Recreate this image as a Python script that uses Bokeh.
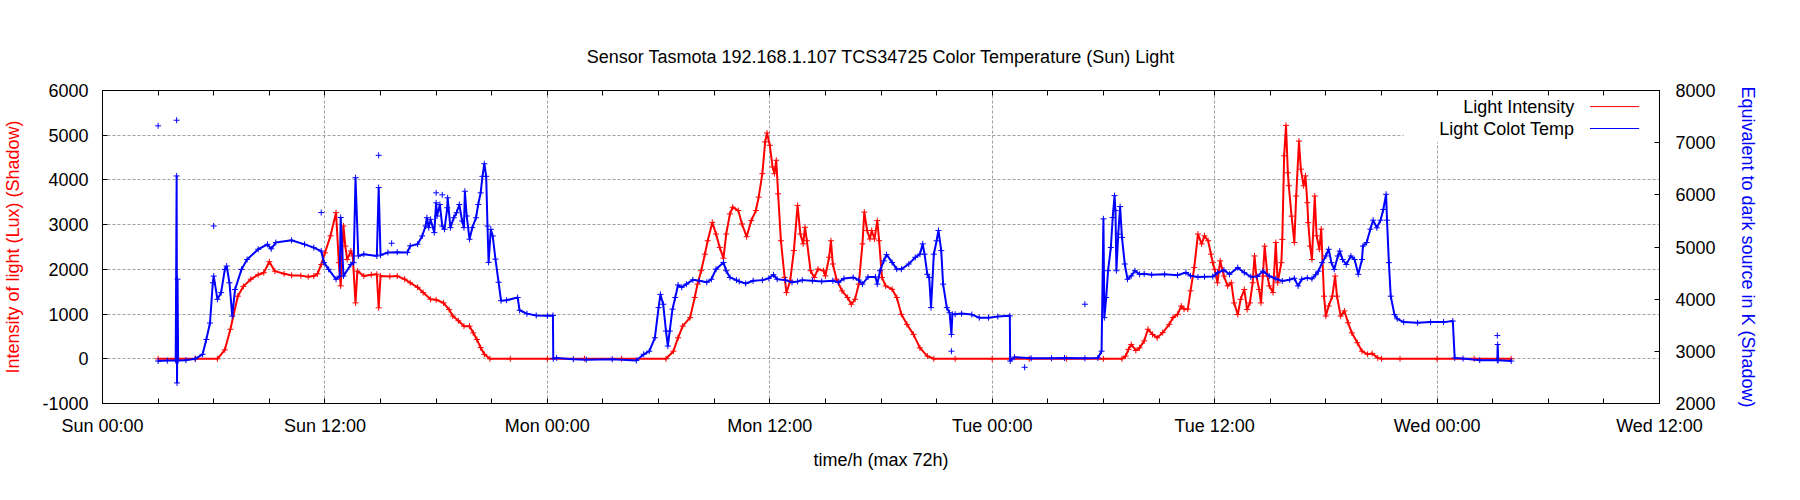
from bokeh.plotting import figure
from bokeh.models import Range1d, LinearAxis, FixedTicker, Label, BoxAnnotation
from bokeh.embed import file_html
from bokeh.resources import INLINE

FONT = "Liberation Sans"
TITLE = "Sensor Tasmota 192.168.1.107 TCS34725 Color Temperature (Sun) Light"
X_LABEL = "time/h (max 72h)"
Y_LABEL = "Intensity of light (Lux) (Shadow)"
Y2_LABEL = "Equivalent to dark source in K (Shadow)"

# x axis in hours since Sunday 00:00
x_tick_hours = [0, 12, 24, 36, 48, 60, 72, 84]
x_tick_labels = ["Sun 00:00", "Sun 12:00", "Mon 00:00", "Mon 12:00",
                 "Tue 00:00", "Tue 12:00", "Wed 00:00", "Wed 12:00"]
x_minor_hours = [3, 6, 9, 15, 18, 21, 27, 30, 33, 39, 42, 45, 51, 54, 57,
                 63, 66, 69, 75, 78, 81]
lux_ticks = [-1000, 0, 1000, 2000, 3000, 4000, 5000, 6000]
lux_tick_labels = ["-1000", "0", "1000", "2000", "3000", "4000", "5000", "6000"]
kelvin_ticks = [2000, 3000, 4000, 5000, 6000, 7000, 8000]
legend_labels = ["Light Intensity", "Light Colot Temp"]

# Light intensity (lux)
light_hours = [3.0, 4.0, 5.0, 6.2, 6.6, 6.9, 7.3, 7.6, 8.0, 8.4, 8.7, 9.0, 9.3, 9.8, 10.2,
               10.7, 11.1, 11.4, 11.6, 11.8, 12.0, 12.3, 12.6, 12.75, 12.85, 13.0, 13.1,
               13.2, 13.4, 13.5, 13.65, 13.75, 14.1, 14.5, 14.8, 14.9, 15.0, 15.5, 15.9,
               16.3, 16.6, 17.0, 17.3, 17.7, 18.0, 18.4, 18.7, 18.9, 19.2, 19.5, 19.8,
               20.0, 20.2, 20.4, 20.6, 20.9, 22.0, 24.0, 26.0, 28.0, 30.4,
               30.8, 31.05, 31.3, 31.7, 31.95, 32.1, 32.3, 32.5, 32.65, 32.9, 33.1, 33.3,
               33.5, 33.65, 33.85, 34.0, 34.3, 34.5, 34.75, 35.0, 35.25, 35.4, 35.6, 35.75,
               35.85, 36.0, 36.15, 36.25, 36.35, 36.45, 36.6, 36.8, 36.9, 37.1, 37.3, 37.5,
               37.65, 37.8, 37.9, 38.0, 38.2, 38.4, 38.6, 38.9, 39.0, 39.2, 39.3, 39.4,
               39.6, 39.9, 40.2, 40.4, 40.6, 40.8, 41.0, 41.1, 41.25, 41.4, 41.5, 41.65,
               41.8, 41.9, 42.05, 42.25, 42.6, 42.85, 43.1, 43.4, 43.75, 44.1, 44.5, 44.85,
               46.0, 48.0, 50.0, 52.0, 54.0, 55.0,
               55.2, 55.35, 55.5, 55.75, 55.95, 56.2, 56.4, 56.65, 56.9, 57.2, 57.55,
               57.75, 58.0, 58.2, 58.35, 58.55, 58.7, 58.9, 59.1, 59.3, 59.45, 59.65,
               59.8, 59.9, 60.0, 60.15, 60.3, 60.5, 60.7, 60.9, 61.05, 61.25, 61.4, 61.6,
               61.75, 61.9, 62.05, 62.15, 62.25, 62.4, 62.5, 62.6, 62.7, 62.85, 62.95,
               63.15, 63.3, 63.4, 63.6, 63.65, 63.75, 63.85, 63.95, 64.0, 64.15, 64.3,
               64.4, 64.55, 64.65, 64.8, 64.9, 65.0, 65.05, 65.15, 65.25, 65.4, 65.5,
               65.65, 65.75, 65.9, 66.0, 66.15, 66.35, 66.5, 66.6, 66.8, 67.0, 67.2,
               67.4, 67.7, 67.95, 68.25, 68.5, 68.8, 69.0, 70.0, 72.0, 74.0, 76.0]
light_lux = [0, 0, 0, 0, 200, 660, 1400, 1620, 1780, 1880, 1925, 2170, 1960, 1900, 1865,
             1860, 1835, 1850, 1900, 2110, 2370, 2750, 3270, 2150, 1630, 2970, 2520,
             2220, 2410, 2300, 1250, 1960, 1850, 1880, 1890, 1140, 1850, 1840, 1850,
             1780, 1700, 1600, 1480, 1330, 1320, 1250, 1100, 955, 850, 730, 730,
             580, 430, 250, 100, 0, 0, 0, 0, 0, 0,
             170, 470, 730, 920, 1370, 1670, 1970, 2340, 2640, 3050, 2790, 2490,
             2250, 2790, 3240, 3390, 3315, 3015, 2730, 3090, 3315, 3615, 4140, 4850,
             5050, 4775, 4290, 4140, 4440, 3690, 2640, 1820, 1480, 1745, 2420, 3430,
             2790, 2570, 2940, 2640, 1970, 1820, 2005, 1970, 1855, 2270, 2640, 2120,
             1780, 1520, 1370, 1220, 1330, 1670, 2570, 3280, 2870, 2680, 2870, 2680,
             3090, 2640, 1820, 1630, 1555, 1370, 995, 770, 545, 245, 60, 0,
             0, 0, 0, 0, 0, 0,
             60, 210, 320, 185, 245, 400, 660, 545, 470, 585, 770,
             920, 995, 1180, 1110, 1110, 1520, 2040, 2790, 2570, 2750, 2640,
             2340, 2150, 2000, 1700, 2190, 1850, 1630, 1700, 1250, 990, 1330, 1550,
             1100, 1250, 1700, 2300, 1850, 1550, 1250, 1850, 2520, 1850, 1630,
             1480, 2600, 1700, 2150, 2670, 4540, 5220, 4160, 3870, 3190, 2600,
             3640, 4870, 4240, 3870, 4090, 3490, 3045, 2520, 2220, 3640, 2750,
             2450, 2900, 1400, 955, 1180, 1400, 1850, 1400, 955, 1070, 805,
             580, 360, 170, 100, 120, 20, 0, 0, 0, 0, 0]

# Light colour temperature (K)
temp_hours = [3.0, 3.5, 3.95, 4.0, 4.02, 4.05, 4.08, 4.5, 5.0, 5.4, 5.6, 5.8, 5.95, 6.0,
              6.2, 6.4, 6.6, 6.7, 6.85, 7.0, 7.15, 7.5, 7.8, 8.4, 8.9, 9.1, 9.35, 10.2,
              10.9, 11.4, 11.8, 11.95, 12.2, 12.6, 12.8, 12.85, 13.0, 13.4, 13.55, 13.65,
              13.8, 14.1, 14.8, 14.9, 15.0, 15.4, 15.9, 16.45, 16.6, 17.0, 17.25, 17.43,
              17.5, 17.6, 17.7, 17.9, 18.0, 18.05, 18.2, 18.33, 18.45, 18.6, 18.62,
              18.77, 18.95, 19.1, 19.25, 19.4, 19.5, 19.55, 19.65, 19.8, 19.95, 20.15,
              20.27, 20.4, 20.5, 20.6, 20.7, 20.77, 20.83, 20.95, 21.05, 21.2, 21.37,
              21.5, 21.8, 22.4, 22.5, 22.9, 23.4, 24.0, 24.3, 24.32,
              24.5, 25.4, 26.1, 27.5, 28.8, 29.2, 29.5, 29.8, 30.0, 30.1, 30.25, 30.4,
              30.5, 30.6, 30.75, 30.9, 31.05, 31.25, 31.5, 31.85, 32.2, 32.6, 32.85,
              33.1, 33.5, 33.65, 33.85, 34.2, 34.35, 34.7, 35.1, 35.6, 35.95, 36.2, 36.4,
              36.85, 37.2, 37.5, 37.75, 38.3, 38.8, 39.4, 39.7, 40.0, 40.5, 40.8, 41.0,
              41.3, 41.7, 41.8, 41.95, 42.15, 42.3, 42.6, 42.85, 43.1, 43.5, 43.85, 44.1,
              44.25, 44.35, 44.5, 44.6, 44.7, 44.85, 45.0, 45.1, 45.25, 45.35, 45.55,
              45.7, 45.8, 45.85, 46.0, 46.35, 46.9, 47.3, 47.8, 48.3, 48.95, 48.97, 49.2,
              50.1, 51.2, 51.9, 53.0, 53.7, 53.9, 54.0, 54.05, 54.15, 54.25, 54.4, 54.5,
              54.6, 54.65, 54.7, 54.8, 54.9, 55.0, 55.15, 55.3, 55.5, 55.7, 55.95, 56.2,
              56.6, 57.3, 58.0, 58.45, 58.7, 59.1, 59.45, 59.9, 60.15, 60.5, 60.8, 61.25,
              61.6, 61.95, 62.3, 62.6, 62.95, 63.3, 63.65, 64.05, 64.3, 64.5, 64.7, 65.0,
              65.25, 65.45, 65.6, 65.8, 66.0, 66.15, 66.3, 66.45, 66.65, 66.75, 66.9,
              67.1, 67.35, 67.55, 67.75, 67.95, 68.0, 68.2, 68.4, 68.55, 68.75, 68.95,
              69.1, 69.25, 69.3, 69.4, 69.5, 69.7, 69.85, 70.2, 70.95, 71.65, 72.35,
              72.85, 72.95, 73.4, 74.3, 75.25, 75.27, 75.3, 76.0]
temp_k = [2814, 2823, 2823, 6362, 2394, 4383, 2823, 2831, 2857, 2943, 3226, 3543, 4314, 4442,
          3997, 4125, 4571, 4635, 4314, 3675, 4185, 4571, 4760, 4957, 5051, 4965, 5085, 5128,
          5051, 4987, 4922, 4700, 4571, 4382, 4442, 5565, 4442, 4665, 4700, 6328,
          4828, 4862, 4828, 6139, 4845, 4895, 4900, 4895, 5022, 5054, 5212, 5402,
          5561, 5371, 5529, 5276, 5847, 5594, 5815, 5402, 5339, 5752, 5943,
          5371, 5561, 5657, 5815, 5498, 5371, 6069, 5594, 5149, 5371, 5561,
          5815, 6038, 6355, 6596, 6355, 5402, 4705, 5339, 5212, 4768, 4324,
          3971, 3980, 4031, 3787, 3723, 3688, 3680, 3688, 2857,
          2874, 2848, 2840, 2848, 2825, 2943, 3003, 3260, 3838, 4091, 3903, 3388,
          3101, 3388, 3808, 4031, 4271, 4228, 4288, 4370, 4353, 4323, 4382,
          4575, 4704, 4545, 4417, 4365, 4340, 4301, 4353, 4365, 4400, 4468, 4382,
          4365, 4323, 4340, 4365, 4353, 4340, 4353, 4323, 4395, 4417, 4365, 4288,
          4425, 4425, 4288, 4545, 4734, 4854, 4704, 4575, 4575, 4674, 4802, 4862,
          5060, 4862, 4477, 4417, 3838, 4862, 5119, 5317, 4931, 4288, 3838,
          3740, 3324, 3710, 3710, 3723, 3705, 3645, 3645, 3667, 3680, 2814, 2889,
          2866, 2866, 2874, 2866, 2874, 3003, 5540, 3645, 4031, 4545, 4991, 5565,
          5985, 5698, 4545, 5248, 5775, 5184, 4674, 4382, 4447, 4545, 4477, 4485,
          4468, 4477, 4460, 4511, 4447, 4425, 4430, 4434, 4507, 4558, 4477, 4605,
          4507, 4430, 4434, 4537, 4442, 4391, 4348, 4374, 4400, 4254, 4382, 4408,
          4391, 4468, 4537, 4700, 4828, 4957, 4700, 4571, 4828, 4922, 4760,
          4665, 4828, 4760, 4477, 4760, 5017, 5085, 5342, 5514, 5368, 5514,
          5719, 6011, 5514, 4700, 4057, 3705, 3624, 3560, 3547, 3560, 3560,
          3581, 2874, 2861, 2831, 2827, 3131, 2827, 2814]

# isolated colour-temperature readings (drawn as points only)
temp_outlier_hours = [3.0, 4.0, 6.0, 11.8, 14.9, 15.6, 18.0, 18.33, 45.8, 49.75, 53.0, 75.25]
temp_outlier_k = [7323, 7430, 5403, 5660, 6757, 5072, 6038, 6000, 3003, 2694, 3903, 3302]

RED = "#ff0000"
BLUE = "#0000ff"
GRID = "#a0a0a0"

p = figure(width=1784, height=480, output_backend="svg", toolbar_location=None,
           x_range=Range1d(0, 84), y_range=Range1d(-1000, 6000),
           min_border_left=96, min_border_right=125, min_border_top=90,
           min_border_bottom=77, background_fill_color="white",
           border_fill_color="white")
p.extra_y_ranges = {"kelvin": Range1d(2000, 8000)}
p.outline_line_color = "black"
p.outline_line_width = 1
p.outline_line_alpha = 1

p.title.text = TITLE
p.title.align = "center"
p.title.text_font = FONT
p.title.text_font_size = "18px"
p.title.text_font_style = "normal"
p.title.text_color = "#000000"
p.title.standoff = 47


def style_axis(ax):
    ax.axis_line_color = "black"
    ax.major_tick_in = 5
    ax.major_tick_out = 0
    ax.minor_tick_in = 5
    ax.minor_tick_out = 0
    ax.major_tick_line_color = "black"
    ax.minor_tick_line_color = "black"
    ax.major_label_text_font = FONT
    ax.major_label_text_font_size = "18px"
    ax.major_label_text_color = "#000000"
    ax.axis_label_text_font = FONT
    ax.axis_label_text_font_size = "18px"
    ax.axis_label_text_font_style = "normal"


xax = p.xaxis[0]
xax.ticker = FixedTicker(ticks=x_tick_hours, minor_ticks=x_minor_hours)
xax.major_label_overrides = dict(zip(x_tick_hours, x_tick_labels))
style_axis(xax)
xax.axis_label = X_LABEL
xax.axis_label_text_color = "#000000"
xax.major_label_standoff = 12
xax.axis_label_standoff = 11

yax = p.yaxis[0]
yax.ticker = FixedTicker(ticks=lux_ticks)
yax.major_label_overrides = dict(zip(lux_ticks, lux_tick_labels))
style_axis(yax)
yax.minor_tick_line_color = None
yax.axis_label = Y_LABEL
yax.axis_label_text_color = RED
yax.major_label_standoff = 14
yax.axis_label_standoff = 16

y2 = LinearAxis(y_range_name="kelvin", ticker=FixedTicker(ticks=kelvin_ticks))
style_axis(y2)
y2.minor_tick_line_color = None
y2.axis_label = Y2_LABEL
y2.axis_label_text_color = BLUE
y2.major_label_standoff = 16
y2.axis_label_standoff = 19
p.add_layout(y2, "right")

top = LinearAxis(ticker=FixedTicker(ticks=x_tick_hours, minor_ticks=x_minor_hours))
style_axis(top)
top.major_label_overrides = {h: "" for h in x_tick_hours}
top.major_label_standoff = 0
p.add_layout(top, "above")

p.xgrid.ticker = FixedTicker(ticks=x_tick_hours)
p.ygrid.ticker = FixedTicker(ticks=lux_ticks)
for g in (p.xgrid, p.ygrid):
    g.grid_line_color = GRID
    g.grid_line_dash = "3 2"
    g.grid_line_width = 1

# key background (blanks the grid like gnuplot's key)
p.add_layout(BoxAnnotation(left=70.2, right=84, bottom=4840, top=6000,
                           fill_color="white", fill_alpha=1, line_color=None,
                           level="underlay"))

# data
p.line(light_hours, light_lux, line_color=RED, line_width=2)
p.scatter(light_hours, light_lux, marker="cross", size=6, line_color=RED, line_width=1)
p.line(temp_hours, temp_k, y_range_name="kelvin", line_color=BLUE, line_width=2)
p.scatter(temp_hours, temp_k, y_range_name="kelvin", marker="cross", size=6,
          line_color=BLUE, line_width=1)
p.scatter(temp_outlier_hours, temp_outlier_k, y_range_name="kelvin", marker="cross",
          size=6, line_color=BLUE, line_width=1)

# key (text left of the sample line, as in gnuplot)
key_rows_y = [5640, 5150]
for label, color, ky in zip(legend_labels, [RED, BLUE], key_rows_y):
    p.add_layout(Label(x=79.4, y=ky, text=label, text_align="right",
                       text_baseline="middle", text_font=FONT,
                       text_font_size="18px", text_color="#000000"))
    p.segment(x0=[80.25], y0=[ky], x1=[82.9], y1=[ky], line_color=color, line_width=1)

open("out.html", "w").write(file_html(p, INLINE))
